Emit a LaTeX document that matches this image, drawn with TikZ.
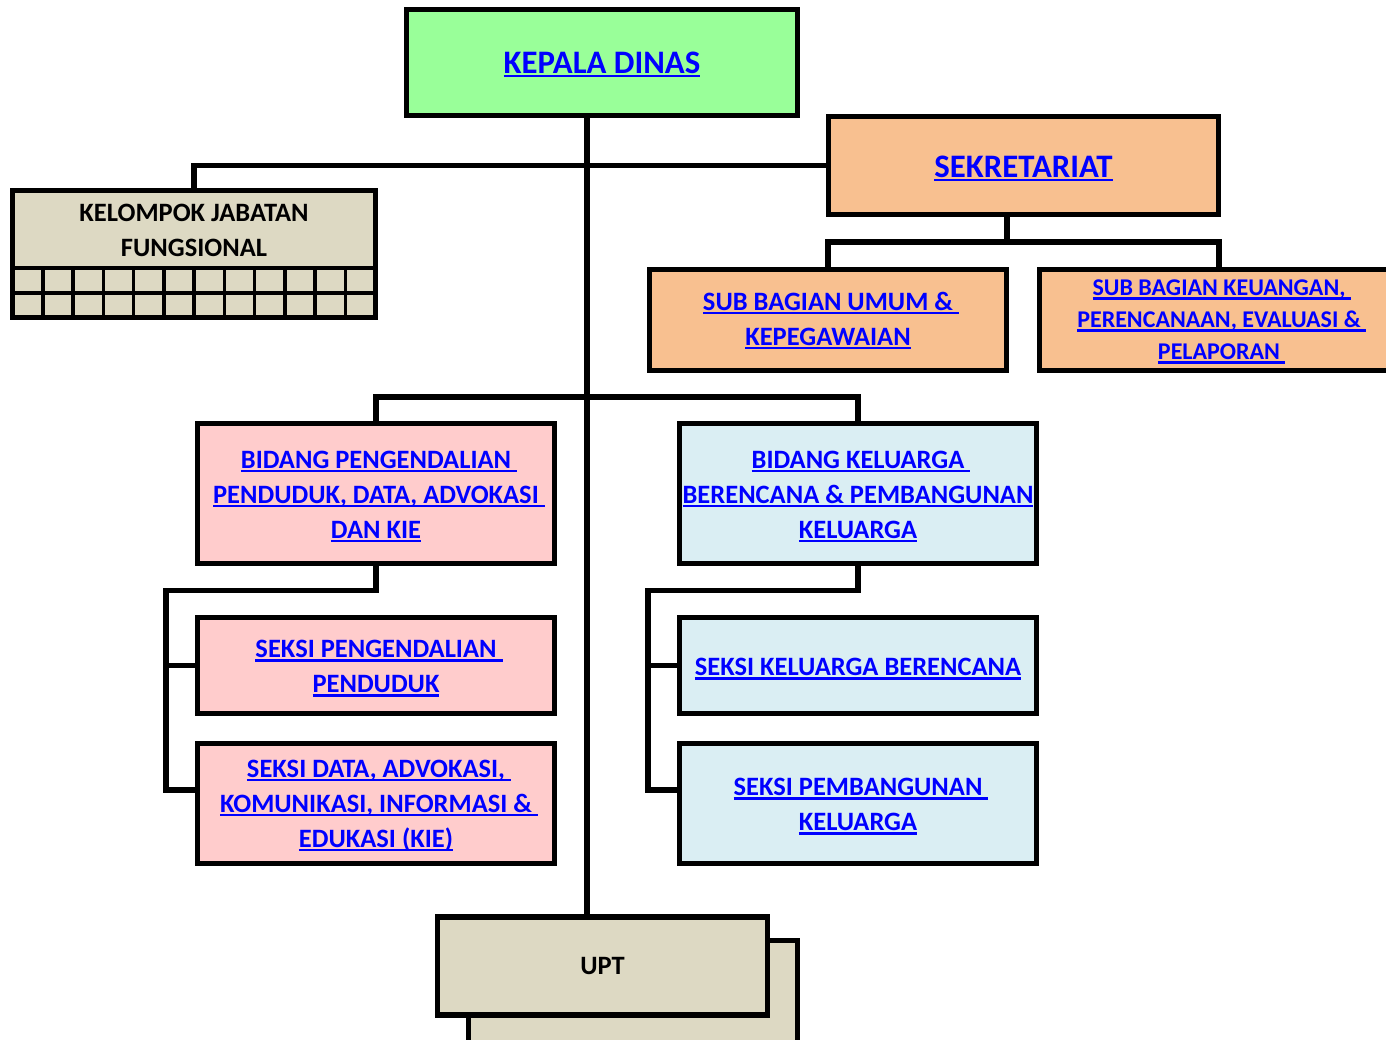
\documentclass[tikz,border=0pt]{standalone}
\usepackage{fontspec}
\setmainfont{Carlito}
\usetikzlibrary{calc}
\definecolor{cgreen}{HTML}{99FF99}
\definecolor{corange}{HTML}{F8C090}
\definecolor{cpink}{HTML}{FFCCCC}
\definecolor{cblue}{HTML}{DAEEF3}
\definecolor{cbeige}{HTML}{DDD9C3}
\definecolor{ctext}{HTML}{0000FF}
\newcommand\ulx[1]{\setbox0\hbox{#1}\rlap{\rule[-4pt]{\wd0}{2.5pt}}\box0}
\newcommand\ulsx[1]{\setbox0\hbox{#1\ }\setbox2\hbox{#1}\rlap{\rule[-4pt]{\wd0}{2.5pt}}\box2}
\newcommand\stx[1]{\rule{0pt}{#1}}
\newcommand\bigf{\fontsize{32.8}{38}\selectfont\bfseries}
\newcommand\medf{\fontsize{26.5}{35}\selectfont\bfseries}
\newcommand\smlf{\fontsize{24}{32}\selectfont\bfseries}
\begin{document}
\begin{tikzpicture}[x=1pt,y=-1pt,
  box/.style={draw=black, line width=5.5pt, rectangle, inner sep=0pt, align=center, font=\medf, text=ctext},
  conn/.style={draw=black, line width=5.5pt, line join=miter},
  gridline/.style={draw=black, line width=3.5pt},
  plain/.style={inner sep=0pt, align=center, font=\medf, text=black}]
\useasboundingbox (0,0) rectangle (1386,1039);
\clip (0,0) rectangle (1386,1039);
% boxes
\node[box,fill=cgreen,minimum width=391pt,minimum height=106pt,font=\bigf] (kd) at (602,62.5) {\stx{25pt}\ulx{KEPALA DINAS}};
\node[box,fill=corange,minimum width=390pt,minimum height=98pt,font=\bigf] (sek) at (1023.5,165.5) {\stx{27pt}\ulx{SEKRETARIAT}};
\node[box,fill=cbeige,minimum width=363pt,minimum height=127pt] (kjf) at (194,254) {};
\node[plain] (kjft) at (194,230) {KELOMPOK JABATAN\\FUNGSIONAL};
\node[box,fill=corange,minimum width=357pt,minimum height=101pt] (sbu) at (828,320) {\stx{19pt}\ulsx{SUB BAGIAN UMUM \&}\\\ulx{KEPEGAWAIAN}};
\node[box,fill=corange,minimum width=359pt,minimum height=101pt,font=\smlf] (sbk) at (1219,320) {\stx{19.5pt}\ulsx{SUB BAGIAN KEUANGAN,}\\\ulsx{PERENCANAAN, EVALUASI \&}\\\ulsx{PELAPORAN}};
\node[box,fill=cpink,minimum width=357pt,minimum height=140pt] (bpp) at (376,493.5) {\stx{23pt}\ulsx{BIDANG PENGENDALIAN}\\\ulsx{PENDUDUK, DATA, ADVOKASI}\\\ulx{DAN KIE}};
\node[box,fill=cblue,minimum width=357pt,minimum height=140pt] (bkb) at (858,493.5) {\stx{23pt}\ulsx{BIDANG KELUARGA}\\\ulx{BERENCANA \& PEMBANGUNAN}\\\ulx{KELUARGA}};
\node[box,fill=cpink,minimum width=357pt,minimum height=96pt] (spp) at (376,665.5) {\stx{23pt}\ulsx{SEKSI PENGENDALIAN}\\\ulx{PENDUDUK}};
\node[box,fill=cpink,minimum width=357pt,minimum height=120pt] (sda) at (376,803.5) {\stx{21pt}\ulsx{SEKSI DATA, ADVOKASI,}\\\ulsx{KOMUNIKASI, INFORMASI \&}\\\ulx{EDUKASI (KIE)}};
\node[box,fill=cblue,minimum width=357pt,minimum height=96pt] (skb) at (858,665.5) {\stx{24pt}\ulx{SEKSI KELUARGA BERENCANA}};
\node[box,fill=cblue,minimum width=357pt,minimum height=120pt] (spk) at (858,803.5) {\stx{23pt}\ulsx{SEKSI PEMBANGUNAN}\\\ulx{KELUARGA}};
\node[box,fill=cbeige,minimum width=329pt,minimum height=105pt] (uptb) at (633,993) {};
\node[box,fill=cbeige,minimum width=330pt,minimum height=98pt,text=black] (upt) at (602.5,966) {UPT};
% grid in KJF box
\draw[gridline] (12.5,268) -- (375.5,268);
\draw[gridline] (12.5,293) -- (375.5,293);
\foreach \k in {1,...,11} \draw[gridline] ({12.5+30.25*\k},268) -- ({12.5+30.25*\k},317.5);
% junction coordinates
\coordinate (mx) at (587,0);
\coordinate (sj) at (1007,242);
\coordinate (bj) at (587,397);
\coordinate (lj) at (166,590.5);
\coordinate (lb) at (166,790);
\coordinate (rj) at (648,590.5);
\coordinate (rb) at (648,790);
% connectors
\draw[conn] (kd.south -| mx) -- (upt.north -| mx);
\draw[conn] (kjf.north) |- (sek.west);
\draw[conn] (sek.south -| sj) -- (sj);
\draw[conn] (sbu.north) -- (sbu.north |- sj) -- (sbk.north |- sj) -- (sbk.north);
\draw[conn] (bpp.north) -- (bpp.north |- bj) -- (bkb.north |- bj) -- (bkb.north);
\draw[conn] (bpp.south) |- (lj) -- (lb) -- (lb -| sda.west);
\draw[conn] (lj |- spp.west) -- (spp.west);
\draw[conn] (bkb.south) |- (rj) -- (rb) -- (rb -| spk.west);
\draw[conn] (rj |- skb.west) -- (skb.west);
\end{tikzpicture}
\end{document}
